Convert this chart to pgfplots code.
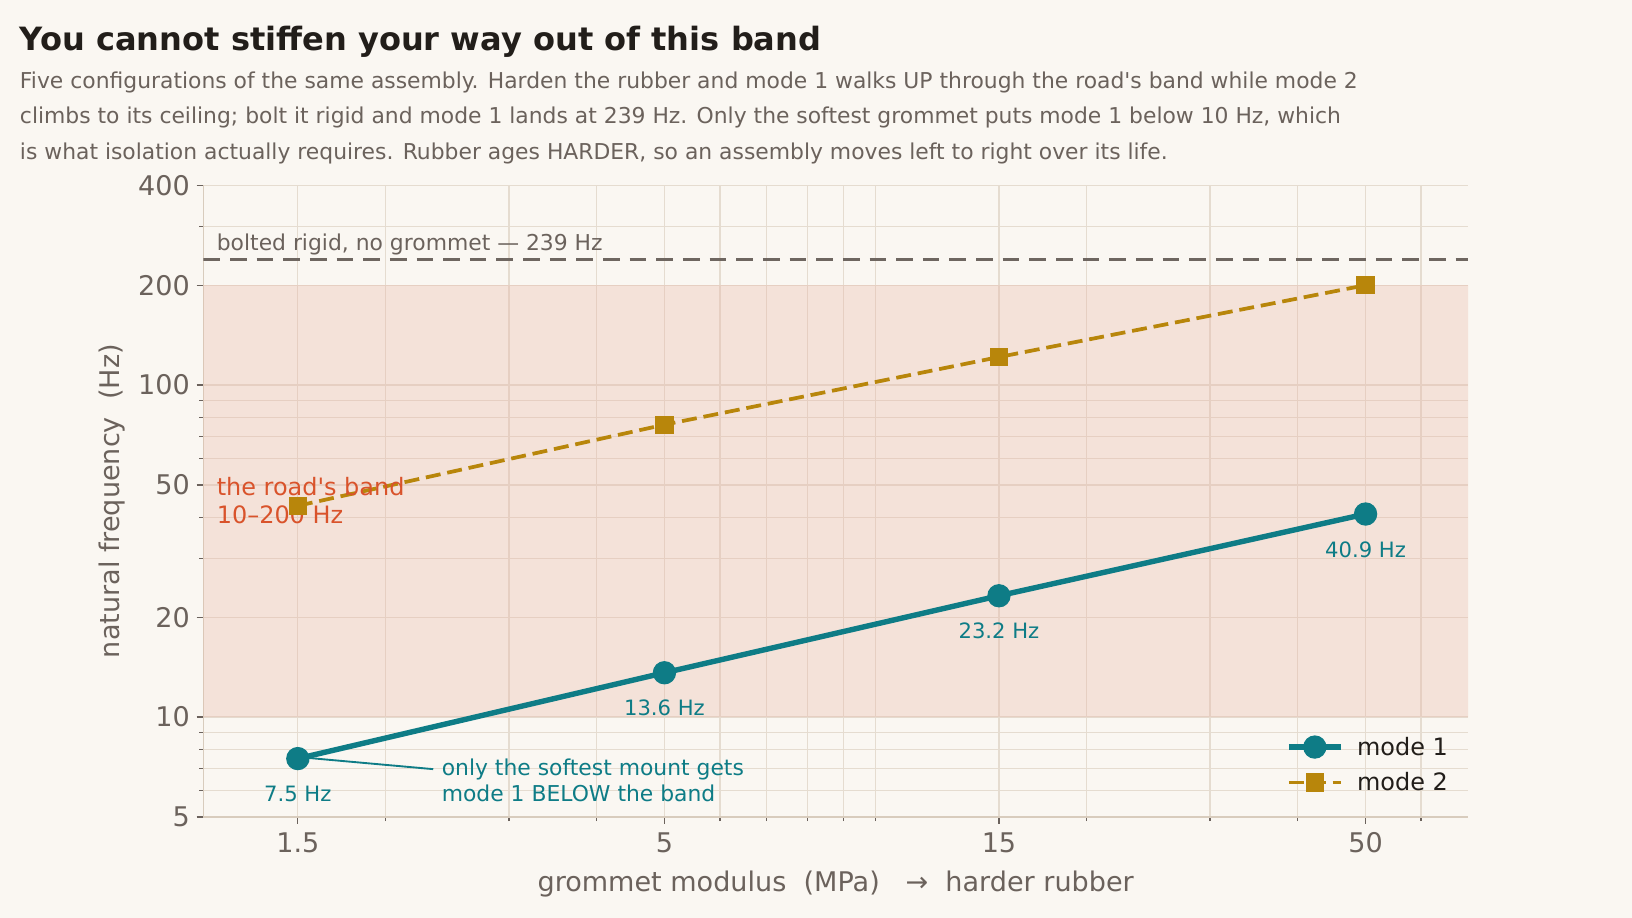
\documentclass[border=0pt]{standalone}
\usepackage{pgfplots}
\pgfplotsset{compat=1.18}
\usepackage{fontspec}
\setmainfont{DejaVu Sans}[Ligatures=TeXOff]
\definecolor{bg}{HTML}{FAF7F2}
\definecolor{titlec}{HTML}{221E1A}
\definecolor{subc}{HTML}{6B625C}
\definecolor{tealc}{HTML}{0E7C86}
\definecolor{goldc}{HTML}{B8860B}
\definecolor{bandc}{HTML}{E9B4A2}
\definecolor{redc}{HTML}{D9532B}
\definecolor{gridc}{HTML}{E5DCD0}
\definecolor{spinec}{HTML}{D8CCBD}
\definecolor{rigidc}{HTML}{6E6660}
\begin{document}
\begin{tikzpicture}[x=1pt,y=1pt]
\fill[bg] (0,0) rectangle (1568,882);
\node[anchor=base west, inner sep=0pt, text=titlec, font=\fontsize{30.8}{36}\selectfont\bfseries] at (19,833) {You cannot stiffen your way out of this band};
\node[anchor=base west, inner sep=0pt, text=subc, font=\fontsize{21}{24}\selectfont] at (19,797) {Five configurations of the same assembly. Harden the rubber and mode 1 walks UP through the road's band while mode 2};
\node[anchor=base west, inner sep=0pt, text=subc, font=\fontsize{21}{24}\selectfont] at (19,763) {climbs to its ceiling; bolt it rigid and mode 1 lands at 239 Hz. Only the softest grommet puts mode 1 below 10 Hz, which};
\node[anchor=base west, inner sep=0pt, text=subc, font=\fontsize{21}{24}\selectfont] at (19,729) {is what isolation actually requires. Rubber ages HARDER, so an assembly moves left to right over its life.};
\begin{axis}[
  at={(195.4pt,97pt)}, anchor=south west, scale only axis,
  width=1215pt, height=607pt,
  xmode=log, ymode=log,
  xmin=1.1, xmax=70, ymin=5, ymax=400,
  axis x line*=bottom, axis y line*=left,
  axis line style={spinec, line width=1.5pt, -},
  xtick={1.5,5,15,50}, xticklabels={1.5,5,15,50},
  minor xtick={2,3,4,6,7,8,9,10,20,30,40,60},
  ytick={5,10,20,50,100,200,400}, yticklabels={5,10,20,50,100,200,400},
  minor ytick={6,7,8,9,30,40,60,70,80,90,300},
  tick align=outside,
  major tick length=6.5pt, minor tick length=4pt,
  tick style={subc, line width=1.2pt},
  grid=both,
  major grid style={gridc, line width=1.2pt},
  minor grid style={gridc, line width=1.2pt},
  ticklabel style={font=\fontsize{26}{30}\selectfont, text=subc},
  xticklabel style={yshift=-5pt},
  yticklabel style={xshift=-3pt},
  xlabel={grommet modulus\ \ (MPa)\ \ \ →\ \ harder rubber},
  ylabel={natural frequency\ \ (Hz)},
  every axis x label/.style={at={(axis description cs:0.5,-0.1186)}, anchor=base},
  every axis y label/.style={at={(axis description cs:-0.0719,0.5)}, anchor=center, rotate=90},
  label style={font=\fontsize{26}{30}\selectfont, text=subc},
  legend style={at={(rel axis cs:0.856,0.130)}, anchor=north west, draw=none, fill=none,
    font=\fontsize{23}{27}\selectfont, text=titlec, row sep=11pt, inner sep=0pt,
    nodes={inner sep=2pt},
    /tikz/every odd column/.append style={column sep=11pt}},
  legend cell align=left,
  legend image code/.code={\draw[mark repeat=2,mark phase=2,#1] plot coordinates {(0pt,0pt) (25pt,0pt) (50pt,0pt)};},
]
\addplot[fill=bandc, fill opacity=0.3, draw=none, forget plot] coordinates {(1.1,10) (70,10) (70,200) (1.1,200) (1.1,10)};
\addplot[rigidc, line width=3.2pt, dash pattern=on 16pt off 9.6pt, forget plot] coordinates {(1.1,239) (70,239)};
\addplot[tealc, line width=5.2pt, mark=*, mark size=10.7pt, mark options={solid, line width=1pt},
  nodes near coords, point meta=explicit symbolic,
  every node near coord/.style={font=\fontsize{20.3}{24}\selectfont, text=tealc, anchor=center, yshift=-34pt}]
  coordinates {(1.5,7.5)[7.5 Hz] (5,13.6)[13.6 Hz] (15,23.2)[23.2 Hz] (50,40.9)[40.9 Hz]};
\addlegendentry{mode 1}
\addplot[goldc, line width=3.6pt, dash pattern=on 14.4pt off 6.6pt, mark=square*, mark size=8.3pt, mark options={solid, line width=1pt}]
  coordinates {(1.5,43.3) (5,76) (15,121.5) (50,200)};
\addlegendentry{mode 2}
\node[anchor=base west, inner sep=0pt, text=subc, font=\fontsize{21}{24}\selectfont] at (axis cs:1.149,253.8) {bolted rigid, no grommet — 239 Hz};
\node[anchor=west, inner sep=0pt, text=redc, align=left, font=\fontsize{23}{27}\selectfont] at (axis cs:1.149,45.0) {the road's band\\10–200 Hz};
\draw[->, tealc, line width=1.8pt] (axis cs:2.34,6.97) -- (axis cs:1.536,7.55);
\node[anchor=west, inner sep=0pt, text=tealc, align=left, font=\fontsize{21}{25}\selectfont] at (axis cs:2.405,6.46) {only the softest mount gets\\mode 1 BELOW the band};
\end{axis}
\end{tikzpicture}
\end{document}
